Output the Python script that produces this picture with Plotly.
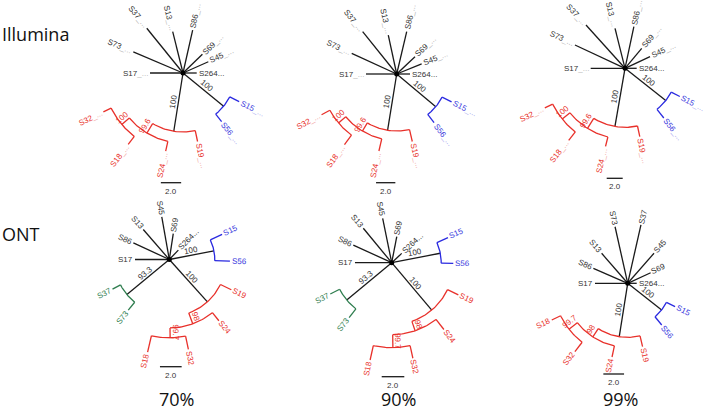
import math
import plotly.graph_objects as go

# ---------------- DATA ----------------
# Tree tables: (node, parent, angle in degrees (clockwise from east), depth from hub in branch-length units, clade)
# nodes starting with "#" are internal nodes
ILL70_NODES = [
    ("S17_...", "hub", 180, 3.25, "k"),
    ("S73_...", "hub", 203, 5.32, "k"),
    ("S37_...", "hub", 231, 5.67, "k"),
    ("S13_...", "hub", 256, 4.20, "k"),
    ("S86_...", "hub", 282.7, 4.33, "k"),
    ("S69_...", "hub", 316, 2.66, "k"),
    ("S45_...", "hub", 336, 2.73, "k"),
    ("S264...", "hub", 0, 1.35, "k"),
    ("#B", "hub", 39.3, 5.17, "b"),
    ("S15_...", "#B", 27, 6.21, "b"),
    ("S56_...", "#B", 51.5, 6.11, "b"),
    ("#R", "hub", 99, 5.81, "r"),
    ("S19_...", "#R", 78, 6.90, "r"),
    ("#N1", "#R", 121, 6.90, "r"),
    ("S24_...", "#N1", 102.5, 7.88, "r"),
    ("#N2", "#N1", 140, 7.88, "r"),
    ("S18_...", "#N2", 127.5, 8.87, "r"),
    ("S32_...", "#N2", 154, 8.73, "r"),
]
ILL70_SUPPORT = {"#B": "100", "#R": "100", "#N1": "99.6", "#N2": "100"}

ILL90_NODES = [
    ("S17_...", "hub", 180, 3.18, "k"),
    ("S73_...", "hub", 204.7, 5.13, "k"),
    ("S37_...", "hub", 231.2, 5.63, "k"),
    ("S13_...", "hub", 257.8, 4.13, "k"),
    ("S86_...", "hub", 283.3, 4.51, "k"),
    ("S69_...", "hub", 316.6, 2.61, "k"),
    ("S45_...", "hub", 338, 2.79, "k"),
    ("S264...", "hub", 0, 1.38, "k"),
    ("#B", "hub", 39.9, 5.28, "b"),
    ("S15_...", "#B", 27, 6.38, "b"),
    ("S56_...", "#B", 52.5, 6.36, "b"),
    ("#R", "hub", 99.2, 5.91, "r"),
    ("S19_...", "#R", 77, 7.18, "r"),
    ("#N1", "#R", 121, 6.89, "r"),
    ("S24_...", "#N1", 103, 8.19, "r"),
    ("#N2", "#N1", 140, 7.88, "r"),
    ("S18_...", "#N2", 126.5, 9.10, "r"),
    ("S32_...", "#N2", 151.5, 8.86, "r"),
]
ILL90_SUPPORT = {"#B": "100", "#R": "100", "#N1": "99.6", "#N2": "100"}

ILL99_NODES = [
    ("S17_...", "hub", 180, 4.29, "k"),
    ("S73_...", "hub", 205, 6.90, "k"),
    ("S37_...", "hub", 228, 7.29, "k"),
    ("S13_...", "hub", 256, 5.15, "k"),
    ("S86_...", "hub", 282, 5.33, "k"),
    ("S69_...", "hub", 310, 3.25, "k"),
    ("S45_...", "hub", 335, 3.45, "k"),
    ("S264...", "hub", 0, 1.46, "k"),
    ("#B", "hub", 38.4, 6.50, "b"),
    ("S15_...", "#B", 27.2, 7.70, "b"),
    ("S56_...", "#B", 52, 7.88, "b"),
    ("#R", "hub", 99.8, 7.38, "r"),
    ("S19_...", "#R", 77.8, 8.75, "r"),
    ("#N1", "#R", 122, 8.85, "r"),
    ("S24_...", "#N1", 104, 10.06, "r"),
    ("#N2", "#N1", 141, 10.09, "r"),
    ("S18_...", "#N2", 128, 11.43, "r"),
    ("S32_...", "#N2", 153.7, 11.18, "r"),
]
ILL99_SUPPORT = {"#B": "100", "#R": "100", "#N1": "99.6", "#N2": "100"}

ONT70_NODES = [
    ("S17", "hub", 180, 3.16, "k"),
    ("S86", "hub", 204.8, 3.65, "k"),
    ("S13", "hub", 229, 3.66, "k"),
    ("S45", "hub", 260, 3.99, "k"),
    ("S69", "hub", 278.7, 2.42, "k"),
    ("S264...", "hub", 314, 1.20, "k"),
    ("#B", "hub", -11, 4.19, "b"),
    ("S15", "#B", -25.5, 5.39, "b"),
    ("S56", "#B", 1.5, 5.59, "b"),
    ("#G", "hub", 140.4, 5.07, "g"),
    ("S37", "#G", 152.5, 5.90, "g"),
    ("S73", "#G", 129, 6.01, "g"),
    ("#R", "hub", 48, 5.25, "r"),
    ("S19", "#R", 26, 6.36, "r"),
    ("#N1", "#R", 70, 6.31, "r"),
    ("S24", "#N1", 51, 7.26, "r"),
    ("#N2", "#N1", 89.4, 7.22, "r"),
    ("S18", "#N2", 103.2, 8.76, "r"),
    ("S32", "#N2", 78, 8.46, "r"),
]
ONT70_SUPPORT = {"#B": "100", "#G": "93.3", "#R": "100", "#N1": "98", "#N2": "99.7"}

ONT90_NODES = [
    ("S17", "hub", 180, 3.25, "k"),
    ("S86", "hub", 204.7, 3.74, "k"),
    ("S13", "hub", 230.5, 3.95, "k"),
    ("S45", "hub", 258.5, 4.01, "k"),
    ("S69", "hub", 281, 2.35, "k"),
    ("S264...", "hub", 317, 1.21, "k"),
    ("#B", "hub", -11, 4.38, "b"),
    ("S15", "#B", -24, 5.45, "b"),
    ("S56", "#B", 0.6, 5.45, "b"),
    ("#G", "hub", 140.3, 5.17, "g"),
    ("S37", "#G", 153, 6.10, "g"),
    ("S73", "#G", 127.8, 6.15, "g"),
    ("#R", "hub", 49.8, 5.49, "r"),
    ("S19", "#R", 25.8, 6.55, "r"),
    ("#N1", "#R", 71, 6.37, "r"),
    ("S24", "#N1", 52, 7.50, "r"),
    ("#N2", "#N1", 89.2, 7.52, "r"),
    ("S18", "#N2", 102.5, 8.82, "r"),
    ("S32", "#N2", 77.5, 8.66, "r"),
]
ONT90_SUPPORT = {"#B": "100", "#G": "93.3", "#R": "100", "#N1": "98", "#N2": "99.7"}

ONT99_NODES = [
    ("S17", "hub", 180, 3.16, "k"),
    ("S86", "hub", 203.6, 3.62, "k"),
    ("S13", "hub", 229, 3.84, "k"),
    ("S73", "hub", 257.4, 5.60, "k"),
    ("S37", "hub", 282.8, 5.78, "k"),
    ("S45", "hub", 311.2, 3.86, "k"),
    ("S69", "hub", 335.3, 2.44, "k"),
    ("S264...", "hub", 0, 0.87, "k"),
    ("#B", "hub", 38.1, 4.17, "b"),
    ("S15", "#B", 26.2, 5.10, "b"),
    ("S56", "#B", 50.8, 5.20, "b"),
    ("#R", "hub", 99, 5.22, "r"),
    ("S19", "#R", 76.8, 6.29, "r"),
    ("#N1", "#R", 123, 6.18, "r"),
    ("S24", "#N1", 102, 7.28, "r"),
    ("#N2", "#N1", 142, 7.20, "r"),
    ("S18", "#N2", 154.2, 8.15, "r"),
    ("S32", "#N2", 127.7, 8.34, "r"),
]
ONT99_SUPPORT = {"#B": "100", "#R": "100", "#N1": "98", "#N2": "99.7"}

SCALE_BAR_VALUE = 2.0
ROW_LABELS = ["Illumina", "ONT"]
COLUMN_LABELS = ["70%", "90%", "99%"]

# ---------------- LAYOUT / STYLE ----------------
W, H = 708, 408
# hub position (px), pixels per branch-length unit, scale-bar centre (px)
PANELS = [
    (ILL70_NODES, ILL70_SUPPORT, (183.0, 73.0), 10.15, (171.0, 182.7)),
    (ILL90_NODES, ILL90_SUPPORT, (396.7, 74.0), 9.65, (385.7, 182.7)),
    (ILL99_NODES, ILL99_SUPPORT, (625.0, 68.3), 8.0, (614.7, 178.3)),
    (ONT70_NODES, ONT70_SUPPORT, (169.3, 259.5), 10.85, (170.8, 366.7)),
    (ONT90_NODES, ONT90_SUPPORT, (391.7, 262.7), 11.3, (393.0, 376.7)),
    (ONT99_NODES, ONT99_SUPPORT, (627.7, 283.3), 10.35, (613.7, 374.0)),
]
ROW_LABEL_POS = [(0, 34), (0, 234)]
COL_LABEL_POS = [(176, 399), (398, 399), (620, 399)]

LINE_COL = {"k": "#1a1a1a", "r": "#e8302a", "b": "#2a2ae0", "g": "#2e7d4e"}
TEXT_COL = {"k": "#333333", "r": "#e8302a", "b": "#3535dd", "g": "#2e7d4e"}
SUFFIX_COL = {"k": "#b5b5b5", "r": "#f2a9a5", "b": "#aaaaf0", "g": "#9ccbb0"}
FONT = "Liberation Sans, Arial, sans-serif"
FS = 8
CHAR_W = {"S": 0.667, "_": 0.556, ".": 0.278}


def text_width(s):
    return sum(CHAR_W.get(c, 0.556) for c in s) * FS


def polar(hub, ang, r):
    a = math.radians(ang)
    return hub[0] + r * math.cos(a), hub[1] + r * math.sin(a)


def norm(a):
    return (a + 180) % 360 - 180


def text_angle(a):
    a = norm(a)
    if a > 90.5:
        return a - 180
    if a < -90.5:
        return a + 180
    return a


fig = go.Figure()
segs = {k: ([], []) for k in LINE_COL}
annotations = []
hub_x, hub_y = [], []

for nodes, support, hub, ppu, bar in PANELS:
    hub_x.append(hub[0])
    hub_y.append(hub[1])
    depth = {n[0]: n[3] for n in nodes}
    angle = {n[0]: n[2] for n in nodes}
    group = {n[0]: n[4] for n in nodes}
    children = {}
    for name, parent, ang, d, g in nodes:
        children.setdefault(parent, []).append(name)
    for name, parent, ang, d, g in nodes:
        r0 = 0.0 if parent == "hub" else depth[parent] * ppu
        r1 = d * ppu
        col = "k" if parent == "hub" else group[parent]
        x0, y0 = polar(hub, ang, r0)
        x1, y1 = polar(hub, ang, r1)
        segs[col][0].extend([x0, x1, None])
        segs[col][1].extend([y0, y1, None])
        if name.startswith("#"):
            angs = [angle[c] for c in children[name]] + [ang]
            a0, a1 = min(angs), max(angs)
            r = d * ppu
            n = 30
            for i in range(n + 1):
                aa = a0 + (a1 - a0) * i / n
                px, py = polar(hub, aa, r)
                segs[g][0].append(px)
                segs[g][1].append(py)
            segs[g][0].append(None)
            segs[g][1].append(None)
            lab = support.get(name)
            if lab:
                t = text_angle(ang)
                mx, my = polar(hub, ang, (r0 + r1) / 2)
                ux, uy = math.sin(math.radians(t)), -math.cos(math.radians(t))
                annotations.append(dict(
                    x=mx + 5.2 * ux, y=my + 5.2 * uy, text=lab, showarrow=False,
                    textangle=t, xanchor="center", yanchor="middle",
                    font=dict(family=FONT, size=FS, color=TEXT_COL[col])))
        else:
            t = text_angle(ang)
            w = text_width(name)
            cx, cy = polar(hub, ang, r1 + 2.0 + w / 2)
            if "_" in name:
                base, suf = name.split("_", 1)
                txt = base + '<span style="color:%s">_%s</span>' % (SUFFIX_COL[g], suf)
            else:
                txt = name
            annotations.append(dict(
                x=cx, y=cy, text=txt, showarrow=False, textangle=t,
                xanchor="center", yanchor="middle",
                font=dict(family=FONT, size=FS, color=TEXT_COL[g])))
    blen = SCALE_BAR_VALUE * ppu
    segs["k"][0].extend([bar[0] - blen / 2, bar[0] + blen / 2, None])
    segs["k"][1].extend([bar[1], bar[1], None])
    annotations.append(dict(
        x=bar[0], y=bar[1] + 8.5, text="%.1f" % SCALE_BAR_VALUE, showarrow=False,
        xanchor="center", yanchor="middle",
        font=dict(family=FONT, size=FS, color="#333333")))

for k, (xs, ys) in segs.items():
    fig.add_trace(go.Scatter(x=xs, y=ys, mode="lines",
                             line=dict(color=LINE_COL[k], width=1.3),
                             hoverinfo="skip", showlegend=False))

fig.add_trace(go.Scatter(x=hub_x, y=hub_y, mode="markers",
                         marker=dict(color="#000000", size=5),
                         hoverinfo="skip", showlegend=False))

for lab, (x, y) in zip(ROW_LABELS, ROW_LABEL_POS):
    annotations.append(dict(x=x, y=y, xref="paper", yref="y", text=lab, showarrow=False,
                            xanchor="left", yanchor="middle",
                            font=dict(family="Open Sans, sans-serif", size=18, color="#111111")))
for lab, (x, y) in zip(COLUMN_LABELS, COL_LABEL_POS):
    annotations.append(dict(x=x, y=y, text=lab, showarrow=False,
                            xanchor="center", yanchor="middle",
                            font=dict(family="Open Sans, sans-serif", size=18, color="#111111")))

fig.update_layout(
    width=W, height=H, margin=dict(l=0, r=0, t=0, b=0),
    paper_bgcolor="white", plot_bgcolor="white",
    xaxis=dict(range=[0, W], visible=False, fixedrange=True),
    yaxis=dict(range=[H, 0], visible=False, fixedrange=True),
    annotations=annotations,
)

fig.write_html("out.html", config={"displayModeBar": False},
               post_script="document.body.style.margin='0px';")
